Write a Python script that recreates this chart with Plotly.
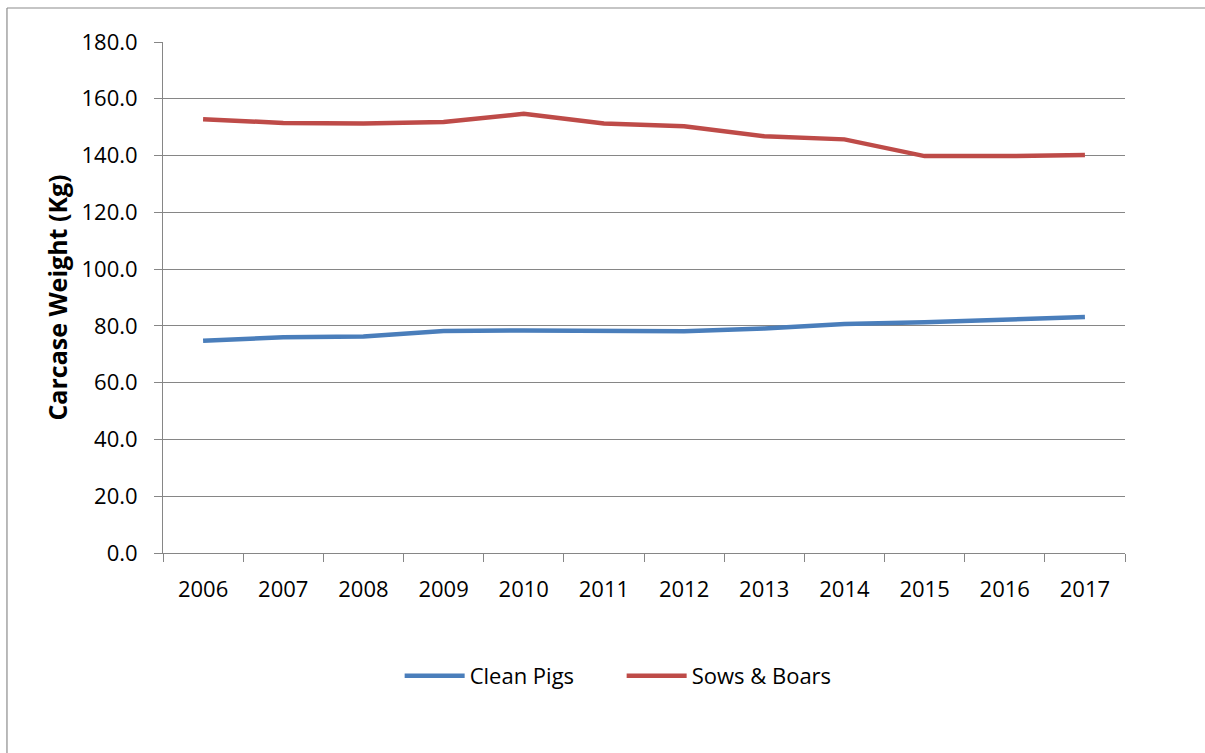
import plotly.graph_objects as go

years = ["2006", "2007", "2008", "2009", "2010", "2011", "2012", "2013", "2014", "2015", "2016", "2017"]
clean_pigs = [74.8, 76.0, 76.3, 78.2, 78.4, 78.1, 78.1, 79.1, 80.7, 81.3, 82.1, 83.1]
sows_boars = [152.8, 151.5, 151.3, 151.8, 154.7, 151.3, 150.3, 146.8, 145.7, 139.8, 139.8, 140.2]
y_ticks = [0, 20, 40, 60, 80, 100, 120, 140, 160, 180]

FONT = "Open Sans"
GRID = "#868686"

fig = go.Figure()
fig.add_trace(go.Scatter(x=years, y=clean_pigs, mode="lines", name="Clean Pigs",
                         line=dict(color="#4A7EBB", width=4.5)))
fig.add_trace(go.Scatter(x=years, y=sows_boars, mode="lines", name="Sows & Boars",
                         line=dict(color="#BE4B48", width=4.5)))

fig.update_layout(
    width=1205, height=753,
    margin=dict(l=163, r=80, t=42, b=200),
    paper_bgcolor="white", plot_bgcolor="white",
    font=dict(family=FONT, size=22, color="black"),
    showlegend=True,
    legend=dict(orientation="h", x=0.246, xanchor="left", y=-0.2407, yanchor="middle",
                font=dict(family=FONT, size=22, color="black"), itemwidth=60,
                entrywidth=147, entrywidthmode="pixels", tracegroupgap=0),
    xaxis=dict(type="category", range=[-0.5, 11.5], showgrid=False, showline=True,
               linecolor=GRID, linewidth=1,
               ticks="outside", ticklen=8, tickcolor=GRID, tickwidth=1, tickson="boundaries",
               ticklabelstandoff=17, tickfont=dict(family=FONT, size=22)),
    yaxis=dict(range=[0, 180], tickvals=y_ticks, tickformat=".1f", showgrid=True,
               gridcolor=GRID, gridwidth=1, showline=True, linecolor=GRID, linewidth=1,
               ticks="outside", ticklen=8, tickcolor=GRID, tickwidth=1, zeroline=False,
               ticklabelstandoff=12, tickfont=dict(family=FONT, size=22),
               title=dict(text="<b>Carcase Weight (Kg)</b>", font=dict(family=FONT, size=25),
                          standoff=6)),
    shapes=[
        dict(type="line", xref="paper", yref="paper", x0=-0.1622, x1=1.1, y0=1.0665, y1=1.0665,
             line=dict(color="#8c8c8c", width=1.2)),
        dict(type="line", xref="paper", yref="paper", x0=-0.1622, x1=-0.1622, y0=1.0665, y1=-0.45,
             line=dict(color="#8c8c8c", width=1.2)),
    ],
)

fig.write_html("out.html")
